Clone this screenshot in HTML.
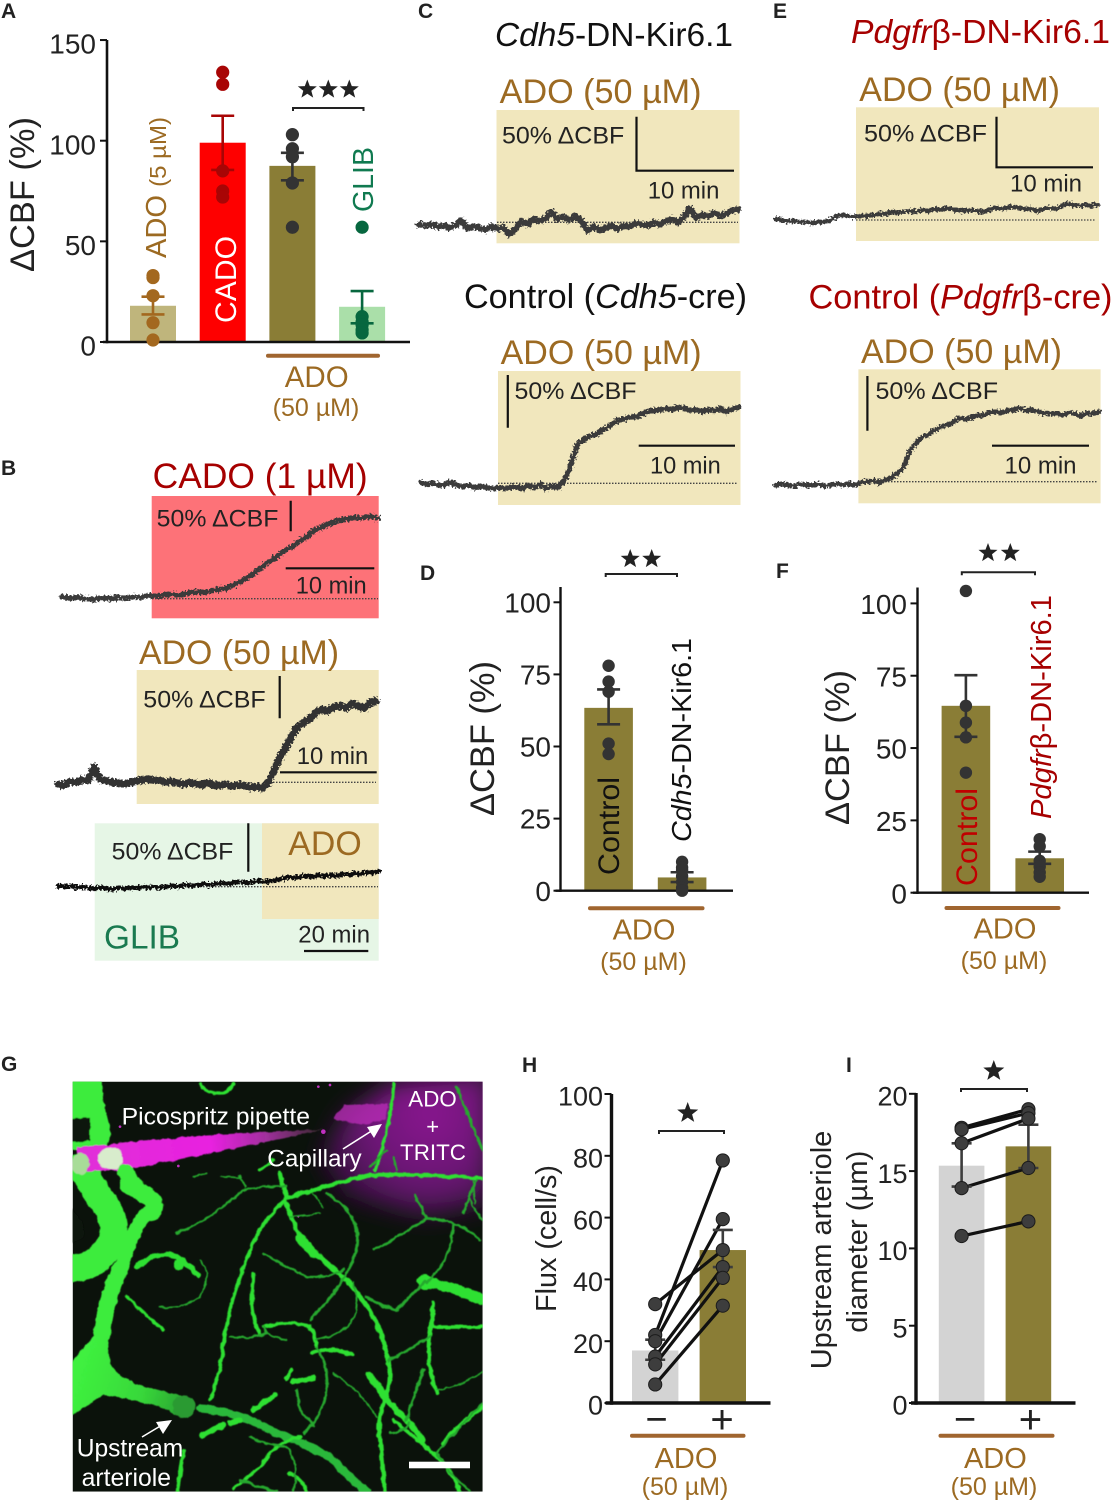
<!DOCTYPE html>
<html lang="en">
<head>
<meta charset="utf-8">
<title>Adenosine CBF figure</title>
<style>
html,body{margin:0;padding:0;background:#fff;}
svg{display:block;}
text{font-family:"Liberation Sans",sans-serif;}
.panel-letter{font-weight:bold;font-size:21px;fill:#222;}
.brown{fill:#9c6a22;}
.red{fill:#a60000;}
.note{fill:#222;}
</style>
</head>
<body>
<svg id="figure" xmlns="http://www.w3.org/2000/svg" width="1112" height="1500" viewBox="0 0 1112 1500">
<defs>
  <filter id="rough" filterUnits="userSpaceOnUse" x="0" y="0" width="1112" height="1500">
    <feTurbulence type="fractalNoise" baseFrequency="0.5" numOctaves="1" seed="4" result="n"/>
    <feDisplacementMap in="SourceGraphic" in2="n" scale="7" xChannelSelector="R" yChannelSelector="G"/>
  </filter>
  <filter id="soft" x="-5%" y="-5%" width="110%" height="110%">
    <feTurbulence type="fractalNoise" baseFrequency="0.045" numOctaves="2" seed="7" result="w"/>
    <feDisplacementMap in="SourceGraphic" in2="w" scale="12" xChannelSelector="R" yChannelSelector="G" result="d"/>
    <feGaussianBlur in="d" stdDeviation="1.5"/>
  </filter>
  <filter id="haze" x="-30%" y="-30%" width="160%" height="160%"><feGaussianBlur stdDeviation="35"/></filter>
  <clipPath id="micro-clip"><rect x="38" y="35" width="1230" height="1230"/></clipPath>
  <radialGradient id="magenta-haze" gradientUnits="userSpaceOnUse" cx="1110" cy="130" r="480">
    <stop offset="0" stop-color="#8a1690"/><stop offset="0.42" stop-color="#6a1474"/><stop offset="0.72" stop-color="#33103a"/><stop offset="1" stop-color="#14101a" stop-opacity="0"/>
  </radialGradient>
  <linearGradient id="pipette-grad" gradientUnits="userSpaceOnUse" x1="50" y1="260" x2="780" y2="180">
    <stop offset="0" stop-color="#e030d8"/><stop offset="0.55" stop-color="#e820e0"/><stop offset="0.78" stop-color="#a0309c"/><stop offset="1" stop-color="#3a2a30"/>
  </linearGradient>
  <linearGradient id="trunk-grad" gradientUnits="userSpaceOnUse" x1="60" y1="900" x2="400" y2="1010">
    <stop offset="0" stop-color="#3ff03f"/><stop offset="0.55" stop-color="#38d83a"/><stop offset="1" stop-color="#279a30"/>
  </linearGradient>
</defs>
<rect width="1112" height="1500" fill="#ffffff"/>

<!-- Panel letters -->
<text class="panel-letter" x="1" y="18">A</text>
<text class="panel-letter" x="1" y="475">B</text>
<text class="panel-letter" x="418" y="18">C</text>
<text class="panel-letter" x="420" y="580">D</text>
<text class="panel-letter" x="773" y="18">E</text>
<text class="panel-letter" x="776" y="578">F</text>
<text class="panel-letter" x="1" y="1071">G</text>
<text class="panel-letter" x="522" y="1072">H</text>
<text class="panel-letter" x="846" y="1072">I</text>

<!-- Panel B backgrounds -->
<g>
  <rect x="151.7" y="496" width="227" height="122.3" fill="#fd7278"/>
  <rect x="136.7" y="670" width="242" height="134" fill="#f1e7bd"/>
  <rect x="94.7" y="823.3" width="284" height="137.4" fill="#e6f6e6"/>
  <rect x="262" y="823.3" width="116.7" height="95.7" fill="#f1e7bd"/>
</g>
<!-- Panels C, E backgrounds -->
<g>
  <rect x="496.5" y="110" width="243" height="133.3" fill="#f1e7bd"/>
  <rect x="498" y="371" width="242.5" height="134" fill="#f1e7bd"/>
  <rect x="856" y="107.3" width="243" height="133.7" fill="#f1e7bd"/>
  <rect x="858.4" y="369.3" width="242.2" height="134" fill="#f1e7bd"/>
</g>

<g id="traces"></g>

<!-- Panel A text -->
<text transform="translate(34,272) rotate(-90)" font-size="34" fill="#222" textLength="155" lengthAdjust="spacingAndGlyphs">ΔCBF (%)</text>
<g id="panel-a"></g>
<text class="brown" transform="translate(166,258) rotate(-90)" font-size="28.5" textLength="141" lengthAdjust="spacingAndGlyphs">ADO <tspan font-size="23.5">(5 µM)</tspan></text>
<text transform="translate(236,323) rotate(-90)" font-size="30" fill="#fff" textLength="87" lengthAdjust="spacingAndGlyphs">CADO</text>
<text transform="translate(373,212) rotate(-90)" font-size="29" fill="#107a50" textLength="65" lengthAdjust="spacingAndGlyphs">GLIB</text>
<text class="brown" x="316.7" y="387" font-size="29.5" text-anchor="middle">ADO</text>
<text class="brown" x="316" y="416" font-size="25" text-anchor="middle">(50 µM)</text>

<!-- Panel B text -->
<text class="red" x="152.7" y="488" font-size="35" textLength="215" lengthAdjust="spacingAndGlyphs">CADO (1 µM)</text>
<text class="note" x="156.7" y="526.7" font-size="24.5" textLength="121.7" lengthAdjust="spacingAndGlyphs">50% ΔCBF</text>
<text class="note" x="295.7" y="593.3" font-size="24" textLength="71" lengthAdjust="spacingAndGlyphs">10 min</text>
<text class="brown" x="139" y="664" font-size="34" textLength="200" lengthAdjust="spacingAndGlyphs">ADO (50 µM)</text>
<text class="note" x="143.3" y="707.3" font-size="24.5" textLength="122.4" lengthAdjust="spacingAndGlyphs">50% ΔCBF</text>
<text class="note" x="296.7" y="764" font-size="24" textLength="71.6" lengthAdjust="spacingAndGlyphs">10 min</text>
<text class="brown" x="288.3" y="855" font-size="34" textLength="73.4" lengthAdjust="spacingAndGlyphs">ADO</text>
<text class="note" x="111.7" y="859.3" font-size="24.5" textLength="121.6" lengthAdjust="spacingAndGlyphs">50% ΔCBF</text>
<text x="104" y="948.3" font-size="33.5" fill="#1a7a50" textLength="76" lengthAdjust="spacingAndGlyphs">GLIB</text>
<text class="note" x="298.3" y="942.7" font-size="24" textLength="71.7" lengthAdjust="spacingAndGlyphs">20 min</text>

<!-- Panel C text -->
<text x="495" y="46" font-size="33" fill="#111" textLength="238" lengthAdjust="spacingAndGlyphs"><tspan font-style="italic">Cdh5</tspan>-DN-Kir6.1</text>
<text class="brown" x="499.7" y="103" font-size="34" textLength="201.8" lengthAdjust="spacingAndGlyphs">ADO (50 µM)</text>
<text class="note" x="502" y="143.3" font-size="24.5" textLength="122.3" lengthAdjust="spacingAndGlyphs">50% ΔCBF</text>
<text class="note" x="647.7" y="198.3" font-size="24" textLength="71.7" lengthAdjust="spacingAndGlyphs">10 min</text>
<text x="464" y="308" font-size="34" fill="#111" textLength="283" lengthAdjust="spacingAndGlyphs">Control (<tspan font-style="italic">Cdh5</tspan>-cre)</text>
<text class="brown" x="500.6" y="364" font-size="34" textLength="201" lengthAdjust="spacingAndGlyphs">ADO (50 µM)</text>
<text class="note" x="514.5" y="399" font-size="24.5" textLength="122" lengthAdjust="spacingAndGlyphs">50% ΔCBF</text>
<text class="note" x="650" y="473.3" font-size="24" textLength="70.8" lengthAdjust="spacingAndGlyphs">10 min</text>

<!-- Panel E text -->
<text class="red" x="851" y="43" font-size="33" textLength="259" lengthAdjust="spacingAndGlyphs"><tspan font-style="italic">Pdgfr</tspan>β-DN-Kir6.1</text>
<text class="brown" x="859.3" y="101" font-size="34" textLength="200.7" lengthAdjust="spacingAndGlyphs">ADO (50 µM)</text>
<text class="note" x="864" y="141.7" font-size="24.5" textLength="123" lengthAdjust="spacingAndGlyphs">50% ΔCBF</text>
<text class="note" x="1010" y="191.7" font-size="24" textLength="72" lengthAdjust="spacingAndGlyphs">10 min</text>
<text class="red" x="808.5" y="308.5" font-size="34" textLength="304" lengthAdjust="spacingAndGlyphs">Control (<tspan font-style="italic">Pdgfr</tspan>β-cre)</text>
<text class="brown" x="861" y="363" font-size="34" textLength="201" lengthAdjust="spacingAndGlyphs">ADO (50 µM)</text>
<text class="note" x="875.5" y="399" font-size="24.5" textLength="122.5" lengthAdjust="spacingAndGlyphs">50% ΔCBF</text>
<text class="note" x="1004.5" y="473.3" font-size="24" textLength="72" lengthAdjust="spacingAndGlyphs">10 min</text>

<!-- Scale bars -->
<g stroke="#111" stroke-width="2.2" fill="none">
  <path d="M290.7,500.7V531.3M285.7,568.3H374.3"/>
  <path d="M279.7,676V718.3M280,772.3H376.7"/>
  <path d="M248.3,823.3V871.7M304,951H368.3"/>
  <path d="M636.5,116.7V170.7H734"/>
  <path d="M507.8,375V427.7M638.7,445.7H735"/>
  <path d="M996.5,116.7V167.3H1093"/>
  <path d="M867.4,376V430.7M992,445.7H1089"/>
</g>

<!-- Panel D text -->
<text transform="translate(494,816) rotate(-90)" font-size="34" fill="#222" textLength="155" lengthAdjust="spacingAndGlyphs">ΔCBF (%)</text>
<g id="panel-d"></g>
<text transform="translate(619,875) rotate(-90)" font-size="30" fill="#111" textLength="98" lengthAdjust="spacingAndGlyphs">Control</text>
<text transform="translate(691,842) rotate(-90)" font-size="28" fill="#111" textLength="204" lengthAdjust="spacingAndGlyphs"><tspan font-style="italic">Cdh5</tspan>-DN-Kir6.1</text>
<text class="brown" x="644" y="939.3" font-size="29" text-anchor="middle">ADO</text>
<text class="brown" x="643.5" y="970" font-size="25" text-anchor="middle">(50 µM)</text>

<!-- Panel F text -->
<text transform="translate(849,825) rotate(-90)" font-size="34" fill="#222" textLength="155" lengthAdjust="spacingAndGlyphs">ΔCBF (%)</text>
<g id="panel-f"></g>
<text transform="translate(977,886) rotate(-90)" font-size="30" fill="#c00000" textLength="98" lengthAdjust="spacingAndGlyphs">Control</text>
<text class="red" transform="translate(1051,819) rotate(-90)" font-size="28.4" textLength="224" lengthAdjust="spacingAndGlyphs"><tspan font-style="italic">Pdgfr</tspan>β-DN-Kir6.1</text>
<text class="brown" x="1005" y="938.3" font-size="29" text-anchor="middle">ADO</text>
<text class="brown" x="1004" y="969" font-size="25" text-anchor="middle">(50 µM)</text>

<!-- Panel G microscope image -->
<g transform="translate(60,1070) scale(0.33333)" clip-path="url(#micro-clip)">
  <rect x="38" y="35" width="1230" height="1230" fill="#0b120b"/>
  <g filter="url(#haze)">
    <path d="M860,130 L1000,35 L1290,10 L1290,400 L1100,440 L860,380 L780,260 Z" fill="url(#magenta-haze)"/>
  </g>
  <g fill="#c030c0">
    <circle cx="790" cy="185" r="7"/>
    <circle cx="775" cy="50" r="4"/>
    <circle cx="810" cy="45" r="4"/>
    <circle cx="355" cy="288" r="4"/>
    <circle cx="180" cy="170" r="4"/>
    <circle cx="715" cy="440" r="3"/>
  </g>
  <g filter="url(#soft)" fill="none" stroke-linecap="round" stroke-linejoin="round">
    <path d="M30,30 H125 Q130,120 155,190 L135,240 L30,240 Z" fill="#3dec3d"/>
    <g stroke="#3dec3d">
      <path d="M60,290 L125,390 Q175,450 155,510 Q125,590 30,595" stroke-width="82"/>
      <path d="M205,345 C260,375 300,395 275,425" stroke-width="54"/>
      <path d="M265,425 C220,470 210,520 180,600" stroke-width="42"/>
      <path d="M180,600 C150,660 135,720 125,800" stroke-width="50"/>
    </g>
    <path d="M100,800 L145,800 L150,880 Q175,925 240,945 Q300,965 360,975 L400,1010 L370,1045 L300,1010 Q200,985 130,975 L30,1040 L30,880 Z" fill="url(#trunk-grad)"/>
    <circle cx="372" cy="1010" r="34" fill="#2a9a32"/>
    <path d="M420,1015 C480,1020 560,1040 620,1075 C700,1110 790,1140 830,1180 C860,1215 890,1240 920,1265" stroke="#2bb83a" stroke-width="24"/>
    <g stroke="#2fe032">
      <path d="M660,310 L680,385" stroke-width="12"/>
      <path d="M680,385 Q600,460 570,540 Q540,620 520,680 Q500,760 490,820 Q485,900 450,990" stroke-width="11"/>
      <path d="M680,385 Q800,345 930,315 Q1050,310 1268,325" stroke-width="12"/>
      <path d="M945,300 Q990,180 1002,40" stroke-width="10"/>
      <path d="M680,400 Q700,470 740,530 Q790,570 860,630 Q920,700 950,760 Q980,830 985,880" stroke-width="14"/>
      <path d="M720,505 L760,550" stroke-width="28"/>
      <path d="M1095,635 Q1180,650 1268,690" stroke-width="32"/>
      <path d="M580,610 L575,700 Q580,760 600,790" stroke-width="12"/>
      <path d="M610,770 Q690,750 750,770 Q770,810 770,830" stroke-width="11"/>
      <path d="M755,850 Q800,825 880,855" stroke-width="13"/>
      <path d="M700,935 L760,925" stroke-width="18"/>
      <path d="M580,1020 L645,975" stroke-width="17"/>
      <path d="M425,1095 L490,1065 M510,1060 L540,1050" stroke-width="17"/>
      <path d="M680,925 L695,900" stroke-width="14"/>
      <path d="M985,880 Q1000,930 970,1000 Q950,1070 960,1100 L975,1265" stroke-width="13"/>
      <path d="M930,920 L980,990 L1050,1060 L1090,1110" stroke-width="17"/>
      <path d="M1000,1050 Q1060,1100 1120,1150 Q1180,1200 1200,1265" stroke-width="12"/>
      <path d="M1120,700 L1115,760 Q1100,830 1110,900 L1130,970" stroke-width="13"/>
      <path d="M200,680 Q240,720 310,780" stroke-width="9"/>
      <path d="M230,590 Q290,540 350,560 Q385,585 415,615" stroke-width="16"/>
      <path d="M1268,1010 Q1200,1060 1150,1120" stroke-width="14"/>
      <path d="M370,1145 L352,1265" stroke-width="13"/>
      <path d="M690,1210 Q730,1230 740,1265" stroke-width="12"/>
      <path d="M520,1255 Q560,1225 610,1180 Q640,1120 720,1100" stroke-width="10"/>
      <path d="M420,40 Q440,75 490,70 Q520,55 520,40" stroke-width="10"/>
      <path d="M600,300 L640,270" stroke-width="10"/>
      <path d="M1110,772 L1268,770" stroke-width="11"/>
      <path d="M925,915 L965,965" stroke-width="24"/>
      <circle cx="1095" cy="635" r="16" fill="#2fe032" stroke-width="14"/>
      <circle cx="355" cy="585" r="8" fill="#2fe032" stroke-width="16"/>
    </g>
    <g stroke="#26a82e">
      <path d="M350,490 Q450,450 550,360 Q620,345 680,350" stroke-width="7"/>
      <path d="M1190,50 L1268,240" stroke-width="8"/>
      <path d="M1065,375 L1100,445 Q1000,510 940,540" stroke-width="8"/>
      <path d="M1100,445 Q1200,450 1260,510" stroke-width="8"/>
      <path d="M1180,460 Q1180,560 1100,640" stroke-width="7"/>
      <path d="M1095,635 Q1050,680 1010,720 Q960,710 920,680" stroke-width="9"/>
      <path d="M800,370 Q880,420 890,480 Q900,540 860,610 Q820,680 750,750" stroke-width="8"/>
      <path d="M610,550 Q680,590 740,620 Q800,625 850,600" stroke-width="7"/>
      <path d="M610,770 Q620,800 680,810 M510,800 Q570,810 620,790" stroke-width="7"/>
      <path d="M770,830 Q820,920 790,1000 Q770,1060 730,1090" stroke-width="8"/>
      <path d="M985,870 Q1050,840 1110,800" stroke-width="9"/>
      <path d="M1090,900 Q1060,980 1040,1050" stroke-width="9"/>
      <path d="M1130,960 Q1200,950 1268,905" stroke-width="5"/>
      <path d="M420,570 Q460,620 420,680 Q370,720 300,710" stroke-width="5"/>
      <path d="M540,1230 Q600,1255 650,1265" stroke-width="9"/>
      <path d="M760,1065 L720,1020 L710,960" stroke-width="8"/>
      <path d="M1250,330 Q1220,400 1210,430 M930,290 L980,240 M1000,260 L1010,300 M540,320 L555,350" stroke-width="7"/>
      <path d="M820,910 Q900,960 950,1040" stroke-width="5"/>
      <path d="M880,640 Q900,700 880,750 Q850,790 770,810" stroke-width="6"/>
      <path d="M1225,380 Q1240,420 1268,450 M1240,330 L1245,400" stroke-width="5"/>
      <path d="M1050,1060 Q1020,1090 990,1090" stroke-width="7"/>
      <path d="M400,320 L440,310 M480,320 L540,325 M760,370 L790,410 M690,440 L780,430" stroke-width="5"/>
      <path d="M1268,1000 Q1180,1090 1130,1150 Q1160,1200 1230,1265" stroke-width="7"/>
      <path d="M570,1100 Q620,1130 680,1130 Q720,1180 700,1265" stroke-width="6"/>
    </g>
    <path d="M30,145 H90 V215 H30 Z" fill="#0b120b"/>
    <path d="M30,410 Q85,470 70,500 Q55,515 30,520 Z" fill="#0b120b"/>
    <path d="M50,232 L440,195 L790,178 L720,195 L190,302 L60,304 Z" fill="url(#pipette-grad)"/>
    <path d="M820,145 L855,105 L985,100 L975,150 L900,165 Z" fill="#b52cb4" opacity="0.8"/>
    <ellipse cx="152" cy="265" rx="38" ry="34" fill="#d8eccc"/>
    <ellipse cx="62" cy="282" rx="26" ry="34" fill="#a8dc98"/>
    <path d="M195,305 L250,375" stroke="#3dec3d" stroke-width="46"/>
  </g>
</g>
<g fill="#fff">
  <text x="121.7" y="1124.3" font-size="24" textLength="188.3" lengthAdjust="spacingAndGlyphs">Picospritz pipette</text>
  <text x="267.3" y="1166.7" font-size="24.3" textLength="94.4" lengthAdjust="spacingAndGlyphs">Capillary</text>
  <text x="408.3" y="1106.7" font-size="22.3" textLength="48.4" lengthAdjust="spacingAndGlyphs">ADO</text>
  <text x="432.7" y="1134" font-size="22" text-anchor="middle">+</text>
  <text x="400" y="1160" font-size="22.5" textLength="66" lengthAdjust="spacingAndGlyphs">TRITC</text>
  <text x="76.7" y="1456.7" font-size="24.6" textLength="106.6" lengthAdjust="spacingAndGlyphs">Upstream</text>
  <text x="81.7" y="1486" font-size="24.7" textLength="89.3" lengthAdjust="spacingAndGlyphs">arteriole</text>
  <path d="M343,1149 L373,1130" stroke="#fff" stroke-width="1.6" fill="none"/>
  <polygon points="382,1124 367,1127 374,1138"/>
  <path d="M142,1437 L162,1425" stroke="#fff" stroke-width="1.6" fill="none"/>
  <polygon points="172,1420 156,1422 163,1434"/>
  <rect x="409" y="1461.7" width="61" height="6.6"/>
</g>

<!-- Panel H text -->
<text transform="translate(556,1312) rotate(-90)" font-size="29" fill="#222" textLength="147" lengthAdjust="spacingAndGlyphs">Flux (cell/s)</text>
<g id="panel-h"></g>
<text x="656.5" y="1432" font-size="38" fill="#222" text-anchor="middle">−</text>
<text x="722" y="1433" font-size="40" fill="#222" text-anchor="middle">+</text>
<text class="brown" x="686" y="1468" font-size="29" text-anchor="middle">ADO</text>
<text class="brown" x="685" y="1495" font-size="25" text-anchor="middle">(50 µM)</text>

<!-- Panel I text -->
<text transform="translate(831,1369.3) rotate(-90)" font-size="29" fill="#222" textLength="238.6" lengthAdjust="spacingAndGlyphs">Upstream arteriole</text>
<text transform="translate(867,1332.7) rotate(-90)" font-size="29" fill="#222" textLength="182" lengthAdjust="spacingAndGlyphs">diameter (µm)</text>
<g id="panel-i"></g>
<text x="965" y="1432" font-size="38" fill="#222" text-anchor="middle">−</text>
<text x="1030.4" y="1433" font-size="40" fill="#222" text-anchor="middle">+</text>
<text class="brown" x="995.4" y="1468" font-size="29" text-anchor="middle">ADO</text>
<text class="brown" x="994" y="1495" font-size="25" text-anchor="middle">(50 µM)</text>

<script>
/* ---------- Panel A data ---------- */
const aCategories = ['ado-5um', 'cado', 'ado-50um', 'glib'];
const aTicks = [0, 50, 100, 150];
const aMeans = [18, 99, 87.5, 17.5];
const aErrLow = [13.7, 85.5, 80.3, 9.3];
const aErrHigh = [22.5, 112.4, 94, 25.3];
const aPoints = [[1, 9.6, 23, 32, 33], [134, 128, 85, 75, 72], [103, 96, 92, 79, 57], [57, 12.6, 10, 8.5, 6, 4.5]];

/* ---------- Panel D data ---------- */
const dCategories = ['control', 'cdh5-dn-kir61'];
const dTicks = [0, 25, 50, 75, 100];
const dMeans = [63.4, 4.6];
const dErrLow = [57.7, 3];
const dErrHigh = [69.8, 6.4];
const dPoints = [[78, 72.5, 69, 51, 47.4], [10, 8, 7, 5, 3, 1, 0]];

/* ---------- Panel F data ---------- */
const fCategories = ['control', 'pdgfrb-dn-kir61'];
const fTicks = [0, 25, 50, 75, 100];
const fMeans = [64.6, 11.9];
const fErrLow = [53.9, 10];
const fErrHigh = [75.2, 14.2];
const fPoints = [[104.3, 64.6, 58.8, 53.7, 41.5], [18.5, 16, 11, 9, 7, 5.5]];

/* ---------- Panel H data ---------- */
const hCategories = ['without-ado', 'with-ado'];
const hTicks = [0, 20, 40, 60, 80, 100];
const hMeans = [17, 49.5];
const hErrLow = [14, 44];
const hErrHigh = [20.5, 56];
const hMinus = [32, 22, 20, 15, 12.5, 6];
const hPlus = [49.5, 78.5, 59.5, 44, 40.5, 31.5];

/* ---------- Panel I data ---------- */
const iCategories = ['without-ado', 'with-ado'];
const iTicks = [0, 5, 10, 15, 20];
const iMeans = [15.35, 16.6];
const iErrLow = [14, 15.2];
const iErrHigh = [16.8, 18];
const iMinus = [17.8, 17.7, 16.8, 13.9, 10.8];
const iPlus = [19, 18.75, 18.4, 15.2, 11.75];

/* ---------- CBF traces, % change from baseline at equal time steps ---------- */
const traceCado = [3,1,2,0,-1,1,0,2,1,3,2,5,4,6,7,6,9,11,10,13,15,18,24,30,38,48,58,66,76,83,92,100,111,116,122,126,128,131,130,133,130];
const traceAdo = [-2,-4,1,0,3,2,18,4,2,0,-1,-2,0,1,3,4,2,3,0,1,-1,-2,0,-2,-3,-1,-3,-4,-2,-5,-3,-4,-6,-5,-7,-1,14,30,42,55,66,71,75,82,86,84,89,90,88,93,90,87,94,96];
const traceGlib = [1,0,1,-1,0,-1,-2,-1,-2,-3,-1,-2,-1,-2,0,-1,0,-1,0,1,0,2,1,2,3,2,3,4,3,4,5,4,5,6,5,6,7,8,10,9,10,11,10,12,11,12,11,13,12,14,13,15,14,16];
const traceCdhMutant = [-2,-3,-2,-4,-3,-5,-3,2,-6,-4,-5,-7,-4,-6,-5,-11,-6,1,-2,3,1,4,10,3,5,2,6,1,-8,-4,-7,-5,-3,-6,-3,-4,-1,-2,-3,0,-2,1,3,0,5,13,4,7,5,9,6,8,11,12];
const traceCdhControl = [1,-1,0,-2,-1,1,-2,-3,-2,-4,-3,-4,-5,-4,-5,-4,-3,-5,-2,-4,-1,-5,-3,-4,3,16,35,41,44,46,49,53,56,60,61,63,63,66,68,69,70,71,70,72,71,69,70,68,70,69,71,68,70,72];
const tracePdgMutant = [1,0,-1,-1,-2,-2,-3,-2,-2,0,4,5,4,3,4,4,5,6,6,8,7,8,9,8,10,9,11,10,12,11,9,9,10,9,8,10,12,11,12,13,12,11,11,9,11,12,11,14,16,15,14,15,14,15];
const tracePdgControl = [-3,-2,-3,-4,-2,-3,-3,-2,-4,-3,-2,-3,-2,-3,-1,0,1,-1,2,4,8,14,28,36,41,43,47,50,52,54,58,57,59,60,61,63,64,63,65,66,67,65,66,64,63,62,63,61,63,62,60,63,62,64];

const NS = 'http://www.w3.org/2000/svg';
function make(tag, attrs, parent) {
  const node = document.createElementNS(NS, tag);
  for (const k in attrs) node.setAttribute(k, attrs[k]);
  parent.appendChild(node);
  return node;
}

function drawTrace(name, values, xStart, xEnd, baseY, pxPerPct, dotStart, dotEnd, color, width) {
  const root = document.getElementById('traces');
  const xAxis = i => xStart + (xEnd - xStart) * i / (values.length - 1);
  const yAxis = v => baseY - v * pxPerPct;
  const dots = make('line', {x1: dotStart, x2: dotEnd, y1: baseY, y2: baseY, stroke: '#444', 'stroke-width': 1.3, 'stroke-dasharray': '1.5 1.5'}, root);
  
  
  const pts = values.map((v, i) => xAxis(i).toFixed(1) + ',' + yAxis(v).toFixed(1)).join(' ');
  const line = make('polyline', {points: pts, fill: 'none', stroke: color, 'stroke-width': width, 'stroke-linejoin': 'round', 'stroke-linecap': 'round', filter: 'url(#rough)'}, root);
  
  
}

function drawStar(root, name, cx, cy, r) {
  const pts = [];
  for (let k = 0; k < 10; k++) {
    const rad = k % 2 ? r * 0.42 : r;
    const a = -Math.PI / 2 + k * Math.PI / 5;
    pts.push((cx + rad * Math.cos(a)).toFixed(1) + ',' + (cy + rad * Math.sin(a)).toFixed(1));
  }
  const star = make('polygon', {points: pts.join(' '), fill: '#222'}, root);
  
  
}

function drawBracket(root, name, x1, x2, y) {
  const b = make('path', {d: 'M' + x1 + ',' + (y + 3) + 'V' + y + 'H' + x2 + 'V' + (y + 3), fill: 'none', stroke: '#222', 'stroke-width': 2}, root);
  
  
}

function drawBarPanel(c) {
  const root = document.getElementById(c.id);
  const yAxis = v => c.y0 - v * c.pxPerUnit;
  const xLeft = i => c.barStart + i * c.barStep;
  const xMid = i => xLeft(i) + c.barW / 2;

  c.categories.forEach((cat, i) => {
    const bar = make('rect', {x: xLeft(i), y: yAxis(c.means[i]), width: c.barW, height: c.y0 - yAxis(c.means[i]), fill: c.barColors[i]}, root);
    
    
  });

  const yLine = make('line', {x1: c.axisX, x2: c.axisX, y1: c.axisTop, y2: c.y0 + c.axisW / 2, stroke: '#111', 'stroke-width': c.axisW}, root);
  
  
  const xLine = make('line', {x1: c.xLineStart, x2: c.xLineEnd, y1: c.y0, y2: c.y0, stroke: '#111', 'stroke-width': c.axisW}, root);
  
  

  c.ticks.forEach(t => {
    const tick = make('line', {x1: c.axisX - 7, x2: c.axisX, y1: yAxis(t), y2: yAxis(t), stroke: '#111', 'stroke-width': 2}, root);
    
    
    const label = make('text', {x: c.labelX, y: yAxis(t) + c.fontSize * 0.36 + c.labelDy, 'font-size': c.fontSize, 'text-anchor': 'end', fill: '#222'}, root);
    label.textContent = t;
    
    
  });

  if (c.pairs) {
    c.pairs[0].forEach((v, k) => {
      const link = make('line', {x1: xMid(0), y1: yAxis(v), x2: xMid(1), y2: yAxis(c.pairs[1][k]), stroke: '#111', 'stroke-width': 3.2}, root);
      
      
    });
  }

  c.categories.forEach((cat, i) => {
    const col = c.markColors[i];
    const mid = xMid(i);
    const d = 'M' + mid + ',' + yAxis(c.errLow[i]) + 'V' + yAxis(c.errHigh[i]) +
      'M' + (mid - c.cap) + ',' + yAxis(c.errHigh[i]) + 'H' + (mid + c.cap) +
      'M' + (mid - c.cap) + ',' + yAxis(c.errLow[i]) + 'H' + (mid + c.cap);
    const err = make('path', {d: d, fill: 'none', stroke: col, 'stroke-width': 2.6}, root);
    
    
    (c.pairs ? c.pairs[i] : c.points[i]).forEach(v => {
      const dot = make('circle', {cx: mid, cy: yAxis(v), r: c.r, fill: col}, root);
      if (c.pairs) { dot.setAttribute('stroke', '#1c1c1c'); dot.setAttribute('stroke-width', 1); }
      
      
    });
  });

  const under = make('line', {x1: c.adoBar[0], x2: c.adoBar[1], y1: c.adoBar[2], y2: c.adoBar[2], stroke: '#a0652f', 'stroke-width': 4, 'stroke-linecap': 'round'}, root);
  
  
  drawBracket(root, 'significance-bracket', c.bracket[0], c.bracket[1], c.bracket[2]);
  c.stars.forEach(s => drawStar(root, 'significance-star', s, c.starY, c.starR));
}

drawTrace('cado-trace', traceCado, 62, 378, 598.7, 0.62, 152, 378, '#3a3a3a', 5.2);
drawTrace('ado-trace', traceAdo, 58, 376, 782.3, 0.846, 267, 376, '#333', 7.4);
drawTrace('glib-ado-trace', traceGlib, 58, 379, 886.7, 0.967, 95, 378, '#111', 4.4);
drawTrace('cdh5-mutant-trace', traceCdhMutant, 419, 738, 222.3, 1.08, 497, 738, '#3a3a3a', 6.2);
drawTrace('cdh5-control-trace', traceCdhControl, 421, 738, 483.3, 1.054, 498, 737, '#3a3a3a', 5.4);
drawTrace('pdgfrb-mutant-trace', tracePdgMutant, 776, 1098, 220, 1.012, 856, 1096, '#3a3a3a', 4.4);
drawTrace('pdgfrb-control-trace', tracePdgControl, 776, 1099, 481.7, 1.094, 858, 1098, '#3a3a3a', 4.8);

drawBarPanel({id: 'panel-a', categories: aCategories, ticks: aTicks, means: aMeans, errLow: aErrLow, errHigh: aErrHigh, points: aPoints,
  y0: 342, pxPerUnit: 2.013, axisX: 107, axisTop: 40, axisW: 2.6, xLineStart: 103, xLineEnd: 410, labelX: 96, fontSize: 28, labelDy: 3.5,
  barStart: 130, barStep: 69.7, barW: 46, cap: 11.5, r: 6.6,
  barColors: ['#bfb57c', '#fe0000', '#8a7d36', '#aadfa9'], markColors: ['#a3681f', '#a80505', '#333333', '#07673f'],
  adoBar: [268, 378, 355.7], bracket: [293, 363.5, 108], stars: [307.3, 328.3, 349.3], starY: 89.5, starR: 10});

drawBarPanel({id: 'panel-d', categories: dCategories, ticks: dTicks, means: dMeans, errLow: dErrLow, errHigh: dErrHigh, points: dPoints,
  y0: 890.7, pxPerUnit: 2.884, axisX: 560.5, axisTop: 587, axisW: 2.4, xLineStart: 555.5, xLineEnd: 733, labelX: 551, fontSize: 28, labelDy: 0,
  barStart: 584.3, barStep: 73.5, barW: 48.6, cap: 11.5, r: 6.2,
  barColors: ['#8a7d36', '#8a7d36'], markColors: ['#333333', '#333333'],
  adoBar: [590, 702.5, 908.3], bracket: [605.7, 677, 574], stars: [630.2, 651.7], starY: 559, starR: 10});

drawBarPanel({id: 'panel-f', categories: fCategories, ticks: fTicks, means: fMeans, errLow: fErrLow, errHigh: fErrHigh, points: fPoints,
  y0: 892.7, pxPerUnit: 2.893, axisX: 917.5, axisTop: 587.5, axisW: 2.4, xLineStart: 913, xLineEnd: 1089, labelX: 907, fontSize: 28, labelDy: 0.5,
  barStart: 941.6, barStep: 73.8, barW: 48.6, cap: 11.5, r: 6.2,
  barColors: ['#8a7d36', '#8a7d36'], markColors: ['#333333', '#333333'],
  adoBar: [946.5, 1058.5, 908], bracket: [961.8, 1035, 572.3], stars: [988, 1010.3], starY: 553, starR: 10});

drawBarPanel({id: 'panel-h', categories: hCategories, ticks: hTicks, means: hMeans, errLow: hErrLow, errHigh: hErrHigh, pairs: [hMinus, hPlus],
  y0: 1403, pxPerUnit: 3.09, axisX: 611.5, axisTop: 1094, axisW: 3.4, xLineStart: 605.5, xLineEnd: 770.5, labelX: 603, fontSize: 27, labelDy: 2,
  barStart: 632, barStep: 67.6, barW: 46.4, cap: 10, r: 6.6,
  barColors: ['#d3d3d3', '#8a7d36'], markColors: ['#3d3d3d', '#3d3d3d'],
  adoBar: [632, 743.5, 1435.7], bracket: [659, 724, 1131], stars: [687.7], starY: 1113, starR: 11});

drawBarPanel({id: 'panel-i', categories: iCategories, ticks: iTicks, means: iMeans, errLow: iErrLow, errHigh: iErrHigh, pairs: [iMinus, iPlus],
  y0: 1403, pxPerUnit: 15.46, axisX: 916, axisTop: 1093, axisW: 3.4, xLineStart: 911, xLineEnd: 1075.5, labelX: 907.5, fontSize: 27, labelDy: 2,
  barStart: 938.8, barStep: 66.8, barW: 45.6, cap: 10, r: 6.6,
  barColors: ['#d3d3d3', '#8a7d36'], markColors: ['#3d3d3d', '#3d3d3d'],
  adoBar: [940.5, 1052.5, 1435.7], bracket: [961, 1027, 1089], stars: [993.8], starY: 1071, starR: 11});
</script>
</svg>
</body>
</html>
